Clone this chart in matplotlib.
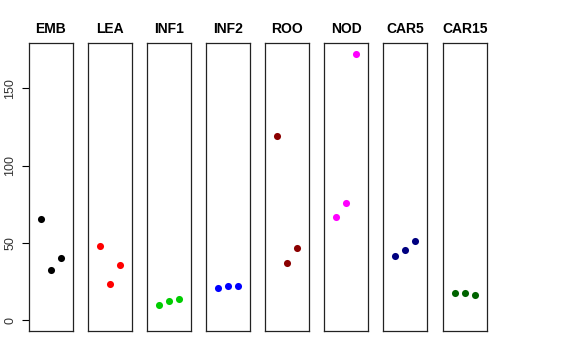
import matplotlib
matplotlib.use("Agg")
import matplotlib.pyplot as plt

plt.rcParams['font.family'] = ['Liberation Sans', 'DejaVu Sans']

groups = ["EMB", "LEA", "INF1", "INF2", "ROO", "NOD", "CAR5", "CAR15"]
colors = ["black", "red", "#00CD00", "blue", "darkred", "magenta", "navy", "darkgreen"]
emb = [65.4, 32.6, 40.4]
lea = [48.2, 23.4, 36.1]
inf1 = [10.2, 12.2, 14.1]
inf2 = [21.0, 22.2, 22.3]
roo = [119.5, 37.0, 46.9]
nod = [66.7, 76.0, 172.5]
car5 = [41.9, 45.4, 51.4]
car15 = [17.8, 17.8, 16.1]
values = [emb, lea, inf1, inf2, roo, nod, car5, car15]
yticks = [0, 50, 100, 150]

W, H = 576, 360
fig = plt.figure(figsize=(W / 100, H / 100), dpi=100)

ymax = max(max(v) for v in values)
pad = 0.04 * ymax
lefts = [29, 88, 147, 206, 265, 324, 383, 443]

for i, (name, col, vals) in enumerate(zip(groups, colors, values)):
    ax = fig.add_axes([lefts[i] / W, 29 / H, 44 / W, 288 / H])
    ax.scatter([1, 2, 3], vals, s=26, color=col, zorder=3, linewidths=0)
    ax.set_xlim(-0.16, 4.16)
    ax.set_ylim(-pad, ymax + pad)
    ax.set_xticks([])
    for sp in ax.spines.values():
        sp.set_linewidth(0.9)
        sp.set_color("#222222")
    ax.set_title(name, fontsize=10, fontweight="bold", pad=7)
    if i == 0:
        ax.set_yticks(yticks)
        ax.set_yticklabels([str(t) for t in yticks], rotation=90, va="center", fontsize=9)
        ax.tick_params(axis="y", length=5, width=0.8, pad=4, labelcolor="#333333")
    else:
        ax.set_yticks([])

fig.savefig("out.png", dpi=100)
